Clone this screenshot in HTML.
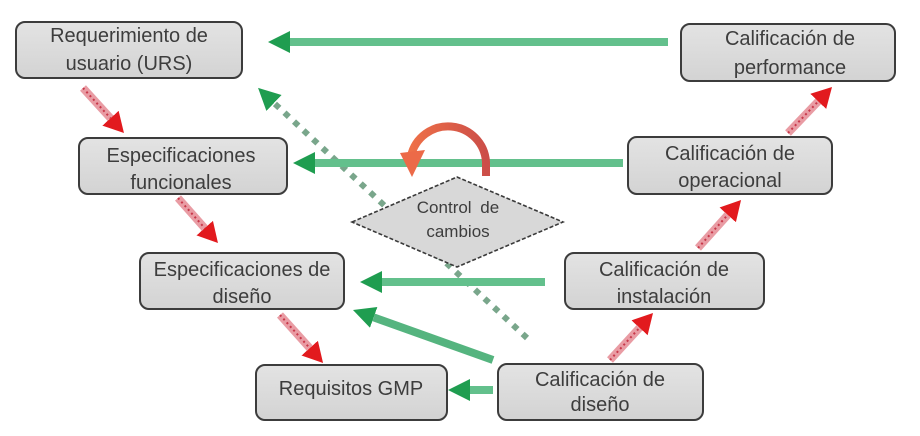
<!DOCTYPE html>
<html>
<head>
<meta charset="utf-8">
<style>
  html,body{margin:0;padding:0;background:#fff;}
  svg{display:block;}
  text{font-family:"Liberation Sans", sans-serif;fill:#3d3d3d;}
</style>
</head>
<body>
<svg width="920" height="436" viewBox="0 0 920 436" xmlns="http://www.w3.org/2000/svg">
  <defs>
    <linearGradient id="boxg" x1="0" y1="0" x2="0" y2="1">
      <stop offset="0" stop-color="#e3e3e3"/>
      <stop offset="1" stop-color="#d3d3d3"/>
    </linearGradient>
    <linearGradient id="arcg" x1="0" y1="0" x2="1" y2="0">
      <stop offset="0" stop-color="#ee7048"/>
      <stop offset="1" stop-color="#cc4e48"/>
    </linearGradient>
    <marker id="gh" markerUnits="userSpaceOnUse" markerWidth="24" markerHeight="24" refX="0" refY="11" orient="auto">
      <path d="M0,0 L22,11 L0,22 z" fill="#1f9d50"/>
    </marker>
    <marker id="rh" markerUnits="userSpaceOnUse" markerWidth="24" markerHeight="24" refX="0" refY="11" orient="auto">
      <path d="M0,0 L20,11 L0,22 z" fill="#e21a1e"/>
    </marker>
  </defs>

  <!-- dotted diagonal arrow (behind diamond) -->
  <line x1="527" y1="338" x2="274" y2="103" stroke="#79a68b" stroke-width="6" stroke-dasharray="6 7"/>
  <line x1="278" y1="106.8" x2="274" y2="103" stroke="none" marker-end="url(#gh)"/>

  <!-- green arrows -->
  <g stroke="#63c08c" stroke-width="8" fill="none">
    <line x1="668" y1="42" x2="290" y2="42" marker-end="url(#gh)"/>
    <line x1="623" y1="163" x2="315" y2="163" marker-end="url(#gh)"/>
    <line x1="545" y1="282" x2="382" y2="282" marker-end="url(#gh)"/>
    <line x1="493" y1="360" x2="373.7" y2="317.4" stroke="#55b47f" marker-end="url(#gh)"/>
    <line x1="493" y1="390" x2="470" y2="390" marker-end="url(#gh)"/>
  </g>

  <!-- diamond -->
  <polygon points="352,222 457,177 563,222 457,267" fill="#d8d8d8" stroke="#3a3a3a" stroke-width="1.6" stroke-dasharray="4 2"/>
  <text x="458" y="213" font-size="17" text-anchor="middle" word-spacing="4">Control de</text>
  <text x="458" y="237" font-size="17" text-anchor="middle">cambios</text>

  <!-- boxes -->
  <g fill="url(#boxg)" stroke="#3c3c3c" stroke-width="2">
    <rect x="16" y="22" width="226" height="56" rx="9"/>
    <rect x="79" y="138" width="208" height="56" rx="9"/>
    <rect x="140" y="253" width="204" height="56" rx="9"/>
    <rect x="256" y="365" width="191" height="55" rx="9"/>
    <rect x="681" y="24" width="214" height="57" rx="9"/>
    <rect x="628" y="137" width="204" height="57" rx="9"/>
    <rect x="565" y="253" width="199" height="56" rx="9"/>
    <rect x="498" y="364" width="205" height="56" rx="9"/>
  </g>

  <g font-size="20" text-anchor="middle">
    <text x="129" y="42">Requerimiento de</text>
    <text x="129" y="70">usuario (URS)</text>

    <text x="181" y="162">Especificaciones</text>
    <text x="181" y="189">funcionales</text>

    <text x="242" y="276">Especificaciones de</text>
    <text x="242" y="303">diseño</text>

    <text x="351" y="395">Requisitos GMP</text>

    <text x="790" y="45">Calificación de</text>
    <text x="790" y="74">performance</text>

    <text x="730" y="160">Calificación de</text>
    <text x="730" y="187">operacional</text>

    <text x="664" y="276">Calificación de</text>
    <text x="664" y="303">instalación</text>

    <text x="600" y="386">Calificación de</text>
    <text x="600" y="411">diseño</text>
  </g>

  <!-- red arrows -->
  <g stroke="#e99ca4" stroke-width="8" fill="none">
    <line x1="83" y1="88" x2="110.5" y2="118.2" marker-end="url(#rh)"/>
    <line x1="178" y1="198" x2="204.7" y2="228.1" marker-end="url(#rh)"/>
    <line x1="280" y1="315" x2="309.7" y2="348.1" marker-end="url(#rh)"/>
    <line x1="610" y1="360" x2="639.5" y2="327.8" marker-end="url(#rh)"/>
    <line x1="698" y1="248" x2="727.7" y2="214.9" marker-end="url(#rh)"/>
    <line x1="788" y1="133" x2="818.2" y2="101.4" marker-end="url(#rh)"/>
  </g>
  <g stroke="#c8384a" stroke-width="2" stroke-dasharray="2 3" fill="none">
    <line x1="83" y1="88" x2="110.5" y2="118.2"/>
    <line x1="178" y1="198" x2="204.7" y2="228.1"/>
    <line x1="280" y1="315" x2="309.7" y2="348.1"/>
    <line x1="610" y1="360" x2="639.5" y2="327.8"/>
    <line x1="698" y1="248" x2="727.7" y2="214.9"/>
    <line x1="788" y1="133" x2="818.2" y2="101.4"/>
  </g>

  <!-- curved arrow -->
  <path d="M486,176 L486,162 A38,38 0 0 0 411,156" fill="none" stroke="url(#arcg)" stroke-width="8"/>
  <polygon points="400,153 425,150 412,177" fill="#ec6a48"/>
</svg>
</body>
</html>
